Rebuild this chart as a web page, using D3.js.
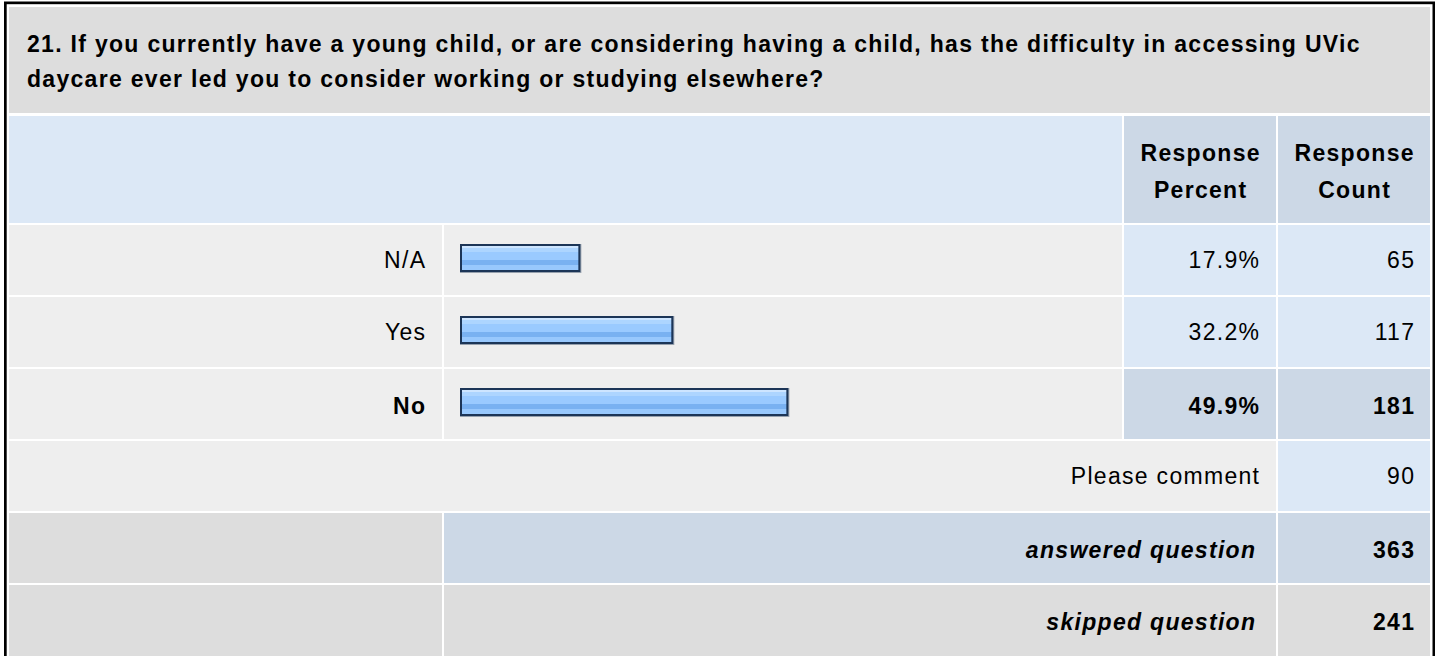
<!DOCTYPE html>
<html>
<head>
<meta charset="utf-8">
<title>Question 21 – UVic daycare</title>
<script src="https://cdn.jsdelivr.net/npm/d3@7/dist/d3.min.js"></script>
<style>
  html, body { margin: 0; padding: 0; background: #ffffff; }
  svg { display: block; }
  text { font-family: "Liberation Sans", Arial, Helvetica, sans-serif; font-size: 23px; letter-spacing: 1.3px; fill: #000; }
</style>
</head>
<body>
<svg id="chart" width="1437" height="656"></svg>
<script>
// ---- data ----
const titleLines = [
  "21. If you currently have a young child, or are considering having a child, has the difficulty in accessing UVic",
  "daycare ever led you to consider working or studying elsewhere?"
];
const headerPercent = ["Response", "Percent"];
const headerCount = ["Response", "Count"];
const answerChoices = ["N/A", "Yes", "No"];
const responsePercent = [17.9, 32.2, 49.9];
const responseCount = [65, 117, 181];
const commentLabel = "Please comment";
const commentCount = 90;
const summaryLabels = ["answered question", "skipped question"];
const summaryCounts = [363, 241];

// ---- layout ----
const svg = d3.select("#chart");
const C = { light: "#eeeeee", gray: "#dddddd", blue: "#dce8f6", steel: "#ccd8e6" };
const col = {
  left: 9, labelR: 442, barL: 444, barR: 1122,
  pctL: 1124, pctR: 1276, cntL: 1278, cntR: 1430
};
const rowStep = 72, rowH = 70;
const ls = 1.3; // letter-spacing, trailing advance on right-aligned text

// outer frame
svg.append("rect").attr("x", 4).attr("y", 1.5).attr("width", 1431).attr("height", 700).attr("fill", "#000");
svg.append("rect").attr("x", 6.7).attr("y", 4.2).attr("width", 1425.8).attr("height", 700).attr("fill", "#fff");

function cell(x0, x1, y0, h, fill) {
  svg.append("rect").attr("x", x0).attr("y", y0).attr("width", x1 - x0).attr("height", h).attr("fill", fill);
}
function label(x, y, txt, opts = {}) {
  const t = svg.append("text").attr("x", x).attr("y", y).text(txt)
    .attr("text-anchor", opts.anchor || "end");
  if (opts.bold) t.attr("font-weight", "bold");
  if (opts.italic) t.attr("font-style", "italic");
  return t;
}

// title block
cell(col.left, col.cntR, 7, 106, C.gray);
titleLines.forEach((line, i) => label(27, 52 + i * 35, line, { anchor: "start", bold: true }));

// header row
cell(col.left, col.barR, 116, 107, C.blue);
cell(col.pctL, col.pctR, 116, 107, C.steel);
cell(col.cntL, col.cntR, 116, 107, C.steel);
headerPercent.forEach((w, i) => label((col.pctL + col.pctR) / 2 + ls / 2, 161 + i * 37, w, { anchor: "middle", bold: true }));
headerCount.forEach((w, i) => label((col.cntL + col.cntR) / 2 + ls / 2, 161 + i * 37, w, { anchor: "middle", bold: true }));

// answer rows
const y = d3.scaleBand().domain(answerChoices)
  .range([225, 225 + rowStep * answerChoices.length - (rowStep - rowH)])
  .paddingInner((rowStep - rowH) / rowStep).paddingOuter(0);
const x = d3.scaleLinear().domain([0, 100]).range([0, 650]);
const maxPct = d3.max(responsePercent);

const defs = svg.append("defs");
const grad = defs.append("linearGradient").attr("id", "barFill")
  .attr("x1", 0).attr("y1", 0).attr("x2", 0).attr("y2", 1);
[[0, "#cde5ff"], [0.13, "#cde5ff"], [0.13, "#add5ff"], [0.26, "#add5ff"], [0.26, "#9acaff"],
 [0.58, "#9acaff"], [0.58, "#79b1f1"], [0.77, "#79b1f1"], [0.77, "#98c8fd"], [1, "#98c8fd"]]
  .forEach(([o, c]) => grad.append("stop").attr("offset", o).attr("stop-color", c));

const rows = answerChoices.map((a, i) => ({ a, p: responsePercent[i], n: responseCount[i], top: responsePercent[i] === maxPct }));

rows.forEach(d => {
  const y0 = y(d.a);
  cell(col.left, col.labelR, y0, y.bandwidth(), C.light);
  cell(col.barL, col.barR, y0, y.bandwidth(), C.light);
  cell(col.pctL, col.pctR, y0, y.bandwidth(), d.top ? C.steel : C.blue);
  cell(col.cntL, col.cntR, y0, y.bandwidth(), d.top ? C.steel : C.blue);

  const by = y0 + 20, bh = 26, bw = x(d.p) + 2;
  // soft drop edge
  svg.append("rect").attr("x", 460).attr("y", by - 1).attr("width", bw + 3).attr("height", bh + 3).attr("fill", "#96a0ad");
  svg.append("rect").attr("x", 461).attr("y", by).attr("width", bw).attr("height", bh)
    .attr("fill", "url(#barFill)").attr("stroke", "#1c3557").attr("stroke-width", 2);

  const base = y0 + 43 + (d.top ? 2 : 0);
  label(425 + ls, base, d.a, { bold: d.top });
  label(1259 + ls, base, d.p.toFixed(1) + "%", { bold: d.top });
  label(1414 + ls, base, d.n, { bold: d.top });
});

// comment row
const cTop = 225 + rowStep * 3;
cell(col.left, col.pctR, cTop, rowH, C.light);
cell(col.cntL, col.cntR, cTop, rowH, C.blue);
label(1259 + ls, cTop + 43, commentLabel);
label(1414 + ls, cTop + 43, commentCount);

// summary rows
summaryLabels.forEach((s, i) => {
  const t = cTop + rowStep * (i + 1);
  const mid = i === 0 ? C.steel : C.gray;
  cell(col.left, col.labelR, t, rowH + (i === 1 ? 10 : 0), C.gray);
  cell(col.barL, col.pctR, t, rowH + (i === 1 ? 10 : 0), mid);
  cell(col.cntL, col.cntR, t, rowH + (i === 1 ? 10 : 0), mid);
  label(1255 + ls, t + 45, s, { bold: true, italic: true });
  label(1414 + ls, t + 45, summaryCounts[i], { bold: true });
});
</script>
</body>
</html>
